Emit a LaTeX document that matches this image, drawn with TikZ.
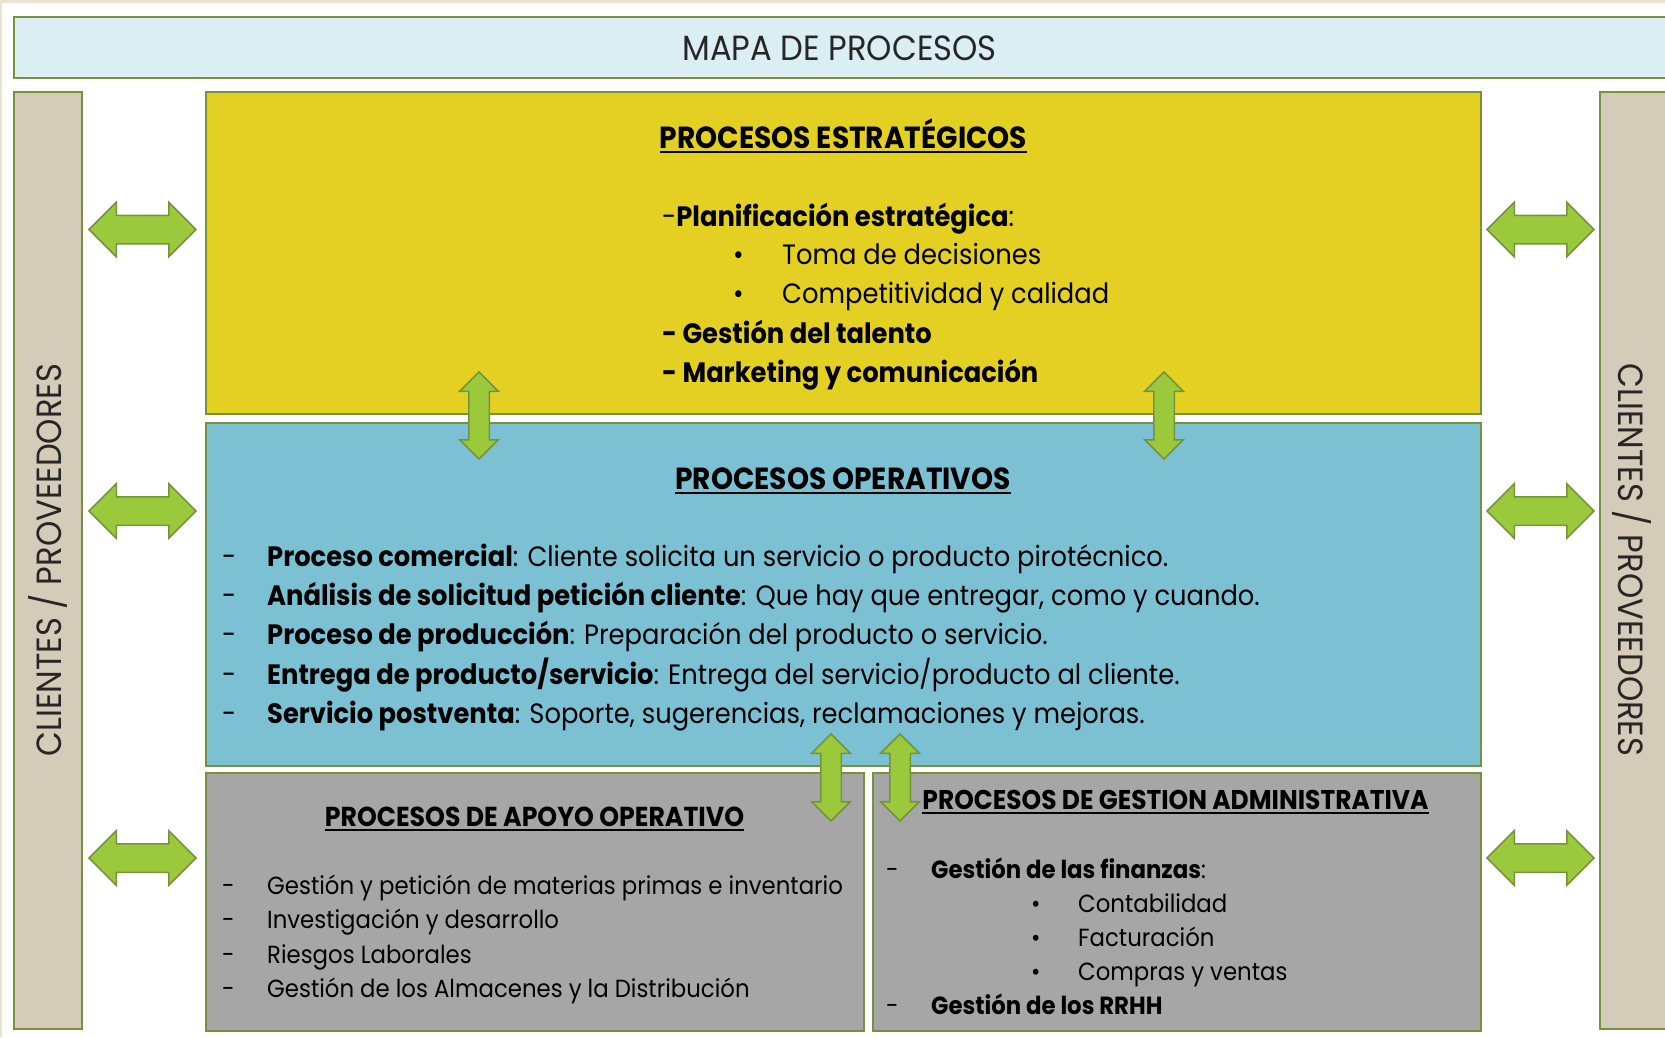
\documentclass[tikz,border=0pt]{standalone}
\usepackage{fontspec}
\setmainfont{Poppins}[FakeStretch=0.92]
\usetikzlibrary{shapes.arrows}
\definecolor{mapaborde}{RGB}{118,146,60}
\definecolor{mapamarco}{RGB}{232,227,210}
\definecolor{mapacielo}{RGB}{219,238,244}
\definecolor{mapaarena}{RGB}{212,203,184}
\definecolor{mapaamarillo}{RGB}{228,208,35}
\definecolor{mapaazul}{RGB}{123,192,211}
\definecolor{mapagris}{RGB}{166,166,166}
\definecolor{mapaflecha}{RGB}{154,202,60}
\tikzset{
  caja/.style={draw=mapaborde, line width=2pt, anchor=north west, inner sep=0pt},
  flecha/.style={double arrow, draw=mapaborde, fill=mapaflecha, line width=1.5pt,
    inner xsep=0pt, double arrow tip angle=90},
  flechah/.style={flecha, minimum height=107pt, inner ysep=13.5pt, double arrow head extend=13pt},
  flechav/.style={flecha, rotate=90, minimum height=87pt, inner ysep=9.5pt, double arrow head extend=9pt},
  encabezado/.style={anchor=base, inner sep=0pt, font=\fontsize{30.5}{34}\selectfont\bfseries},
  linea/.style={anchor=base west, inner sep=0pt, font=\fontsize{28}{32}\selectfont},
  lineapeq/.style={linea, font=\fontsize{24.8}{28}\selectfont},
  subraya/.style={line width=1.8pt}
}

\begin{document}
\begin{tikzpicture}[x=1pt,y=-1pt]
\useasboundingbox (0,0) rectangle (1665,1037);
\fill[mapamarco] (0,0) rectangle (1665,1037);
\fill[white] (2,3) rectangle (1665,1037);

% cabecera y laterales
\node[caja, fill=mapacielo, minimum width=1680pt, minimum height=61pt] (cabecera) at (13,16) {};
\node[caja, fill=mapaarena, minimum width=68pt, minimum height=937pt] (latizq) at (13,91) {};
\node[caja, fill=mapaarena, minimum width=80pt, minimum height=937pt] (latder) at (1599,91) {};
\node[anchor=base, inner sep=0pt, text=black!85, font=\fontsize{35}{38}\selectfont] (titulo) at (839.5,60) {MAPA DE PROCESOS};
\node[inner sep=0pt, rotate=90, text=black!85, font=\fontsize{35}{38}\selectfont] (ladoizq) at (47.5,560) {CLIENTES / PROVEEDORES};
\node[inner sep=0pt, rotate=-90, text=black!85, font=\fontsize{35}{38}\selectfont] (ladoder) at (1632,560) {CLIENTES / PROVEEDORES};

% bloques de procesos
\node[caja, fill=mapaamarillo, minimum width=1275pt, minimum height=322pt] (estrategicos) at (205,91) {};
\node[caja, fill=mapaazul, minimum width=1275pt, minimum height=343pt] (operativos) at (205,422) {};
\node[caja, fill=mapagris, minimum width=658pt, minimum height=258pt] (apoyo) at (205,772) {};
\node[caja, fill=mapagris, minimum width=608pt, minimum height=258pt] (gestion) at (872,772) {};

% Procesos estratégicos
\node[encabezado] (hest) at (843.5,148) {PROCESOS ESTRATÉGICOS};
\draw[subraya] ([yshift=-4pt]hest.base west) -- ([yshift=-4pt]hest.base east);
\node[linea] (plan) at (662,226) {-\textbf{Planificación estratégica}:};
\foreach \yy/\txt in {264/Toma de decisiones, 303/Competitividad y calidad} {
  \node[linea] at (733,\yy) {•};
  \node[linea] (est\yy) at (782,\yy) {\txt};
}
\node[linea, font=\fontsize{28}{32}\selectfont\bfseries] (talento) at (662,343) {- Gestión del talento};
\node[linea, font=\fontsize{28}{32}\selectfont\bfseries] (marketing) at (662,382) {- Marketing y comunicación};

% Procesos operativos
\node[encabezado] (hop) at (843,489) {PROCESOS OPERATIVOS};
\draw[subraya] ([yshift=-4pt]hop.base west) -- ([yshift=-4pt]hop.base east);
\foreach \yy/\txt in {
  566/{\textbf{Proceso comercial}: Cliente solicita un servicio o producto pirotécnico.},
  605/{\textbf{Análisis de solicitud petición cliente}: Que hay que entregar, como y cuando.},
  644/{\textbf{Proceso de producción}: Preparación del producto o servicio.},
  684/{\textbf{Entrega de producto/servicio}: Entrega del servicio/producto al cliente.},
  723/{\textbf{Servicio postventa}: Soporte, sugerencias, reclamaciones y mejoras.}} {
  \node[linea] at (222,\yy) {-};
  \node[linea] (op\yy) at (267,\yy) {\txt};
}

% Procesos de apoyo operativo
\node[encabezado, font=\fontsize{27.4}{30}\selectfont\bfseries] (hapo) at (534.5,826) {PROCESOS DE APOYO OPERATIVO};
\draw[subraya] ([yshift=-4pt]hapo.base west) -- ([yshift=-4pt]hapo.base east);
\foreach \yy/\txt in {894/Gestión y petición de materias primas e inventario,
  928/Investigación y desarrollo, 963/Riesgos Laborales,
  997/Gestión de los Almacenes y la Distribución} {
  \node[lineapeq] at (222,\yy) {-};
  \node[lineapeq] (apo\yy) at (267,\yy) {\txt};
}

% Procesos de gestión administrativa
\node[encabezado, font=\fontsize{27.1}{30}\selectfont\bfseries] (hges) at (1175.5,809) {PROCESOS DE GESTION ADMINISTRATIVA};
\draw[subraya] ([yshift=-4pt]hges.base west) -- ([yshift=-4pt]hges.base east);
\node[lineapeq] at (886,878) {-};
\node[lineapeq] (finanzas) at (931,878) {\textbf{Gestión de las finanzas}:};
\foreach \yy/\txt in {912/Contabilidad, 946/Facturación, 980/Compras y ventas} {
  \node[lineapeq] at (1031,\yy) {•};
  \node[lineapeq] (fin\yy) at (1078,\yy) {\txt};
}
\node[lineapeq] at (886,1014) {-};
\node[lineapeq] (rrhh) at (931,1014) {\textbf{Gestión de los RRHH}};

% flechas laterales
\foreach \yy [count=\i] in {229.5,511,858} {
  \node[flechah] (fizq\i) at (142.5,\yy) {};
  \node[flechah] (fder\i) at (1540.5,\yy) {};
}
% flechas entre bloques
\node[flechav] (fv1) at (479,415.5) {};
\node[flechav] (fv2) at (1164,415.5) {};
\node[flechav] (fv3) at (831,777.5) {};
\node[flechav] (fv4) at (900,777.5) {};
\end{tikzpicture}
\end{document}
